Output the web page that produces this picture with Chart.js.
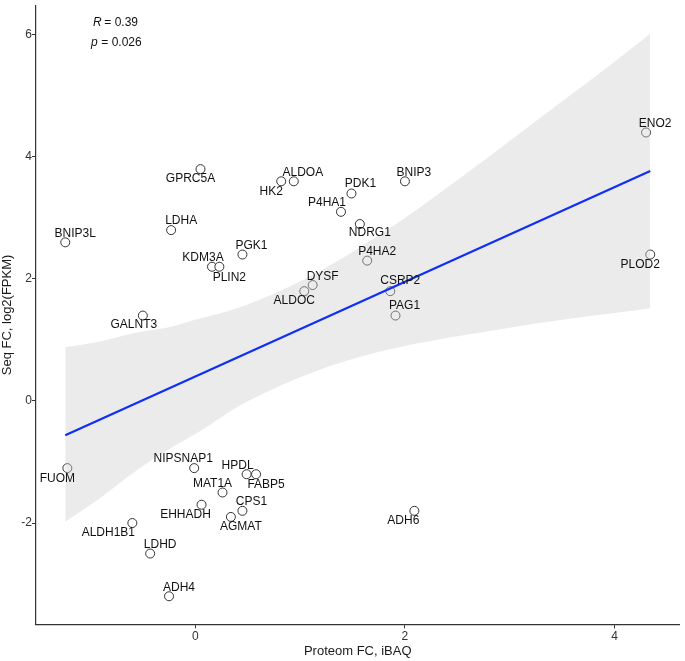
<!DOCTYPE html>
<html>
<head>
<meta charset="utf-8">
<script src="https://cdn.jsdelivr.net/npm/chart.js@4.4.1/dist/chart.umd.min.js"></script>
<style>
  body { margin: 0; background: #fff; }
  #wrap { width: 685px; height: 661px; }
</style>
</head>
<body>
<div id="wrap"><canvas id="scatter" width="685" height="661"></canvas></div>
<script>
// gene labels + values
const genes = ['GPRC5A', 'HK2', 'ALDOA', 'P4HA1', 'LDHA', 'BNIP3L', 'PGK1', 'KDM3A', 'PLIN2', 'DYSF',
  'ALDOC', 'GALNT3', 'ENO2', 'BNIP3', 'PDK1', 'NDRG1', 'P4HA2', 'CSRP2', 'PAG1', 'PLOD2',
  'FUOM', 'NIPSNAP1', 'HPDL', 'FABP5', 'MAT1A', 'EHHADH', 'CPS1', 'AGMAT', 'ALDH1B1', 'LDHD',
  'ADH4', 'ADH6']
const proteomFC = [0.05, 0.82, 0.94, 1.39, -0.23, -1.24, 0.45, 0.16, 0.23, 1.12,
  1.04, -0.50, 4.30, 2.00, 1.49, 1.57, 1.64, 1.86, 1.91, 4.34,
  -1.22, -0.01, 0.49, 0.58, 0.26, 0.06, 0.45, 0.34, -0.60, -0.43,
  -0.25, 2.09]
const seqFC = [3.8, 3.6, 3.6, 3.1, 2.8, 2.6, 2.4, 2.2, 2.2, 1.9,
  1.8, 1.4, 4.4, 3.6, 3.4, 2.9, 2.3, 1.8, 1.4, 2.4,
  -1.1, -1.1, -1.2, -1.2, -1.5, -1.7, -1.8, -1.9, -2.0, -2.5,
  -3.2, -1.8]

// regression line ends and confidence band edges
const fitX = [-1.24, 4.34]
const fitY = [-0.56, 3.77]
const bandX = [-1.24, -0.9, -0.57, -0.25, 0.06, 0.4, 0.8, 1.2, 1.61, 2.0, 2.5, 3.0, 3.5, 4.0, 4.34]
const bandHi = [0.88, 0.98, 1.12, 1.21, 1.36, 1.52, 1.80, 2.14, 2.56, 3.00, 3.62, 4.26, 4.91, 5.56, 6.02]
const bandLo = [-1.98, -1.58, -1.15, -0.79, -0.48, -0.10, 0.24, 0.52, 0.74, 0.90, 1.06, 1.20, 1.33, 1.44, 1.52]

const xTicks = [0, 2, 4]
const yTicks = [-2, 0, 2, 4, 6]

// label nudges in px (ggrepel placement)
const labelNudge = [[-10, 10], [-10, 10], [9, -9], [-14, -9], [10, -9], [10, -9], [9, -9], [-9, -9], [10, 11], [10, -8],
  [-10, 10], [-9, 9], [9, -9], [9, -9], [9, -10], [10, 9], [10, -9], [10, -10], [9, -10], [-10, 10],
  [-10, 11], [-11, -9], [-9, -9], [10, 10], [-10, -9], [-16, 10], [9, -9], [10, 10], [-24, 10], [10, -9],
  [10, -9], [-11, 10]]

Chart.defaults.font.family = '"Liberation Sans", Arial, sans-serif'
Chart.defaults.color = '#1a1a1a'

const toPts = (xs, ys) => xs.map((x, i) => ({ x: x, y: ys[i] }))

const geneLabels = {
  id: 'geneLabels',
  afterDatasetsDraw(chart) {
    const ctx = chart.ctx
    const meta = chart.getDatasetMeta(0)
    ctx.save()
    ctx.font = '12px "Liberation Sans", Arial, sans-serif'
    ctx.fillStyle = '#111'
    ctx.textAlign = 'center'
    ctx.textBaseline = 'middle'
    meta.data.forEach((pt, i) => {
      ctx.fillText(genes[i], pt.x + labelNudge[i][0], pt.y + labelNudge[i][1])
    })
    // stats annotation
    const area = chart.chartArea
    const cx = area.left + 79
    ctx.textAlign = 'left'
    ctx.font = 'italic 12px "Liberation Sans", Arial, sans-serif'
    ctx.fillText('R', cx - 22, 23)
    ctx.fillText('p', cx - 24, 43)
    ctx.font = '12px "Liberation Sans", Arial, sans-serif'
    ctx.fillText(' = 0.39', cx - 14, 23)
    ctx.fillText(' = 0.026', cx - 17, 43)
    ctx.restore()
  }
}

const scatterCtx = document.getElementById('scatter')
const scatter = new Chart(scatterCtx, {
  type: 'scatter',
  data: {
    datasets: [
      {
        data: toPts(proteomFC, seqFC),
        pointRadius: 4.5,
        pointBorderWidth: 1,
        borderColor: '#333',
        backgroundColor: '#fff',
        order: 3,
      },
      {
        data: toPts(bandX, bandLo),
        showLine: true,
        borderWidth: 0,
        pointRadius: 0,
        cubicInterpolationMode: 'monotone',
        order: 2,
      },
      {
        data: toPts(bandX, bandHi),
        showLine: true,
        borderWidth: 0,
        pointRadius: 0,
        cubicInterpolationMode: 'monotone',
        fill: { target: 1 },
        backgroundColor: 'rgba(205, 205, 205, 0.4)',
        order: 2,
      },
      {
        data: toPts(fitX, fitY),
        showLine: true,
        borderColor: '#0f2ff5',
        borderWidth: 2.2,
        pointRadius: 0,
        order: 1,
      },
    ],
  },
  options: {
    responsive: false,
    animation: false,
    layout: { padding: { top: 3.4, right: 1, left: 0, bottom: 0 } },
    plugins: {
      legend: { display: false },
      tooltip: { enabled: false },
    },
    scales: {
      x: {
        type: 'linear',
        min: -1.519,
        max: 4.619,
        afterBuildTicks: (s) => { s.ticks = xTicks.map((v) => ({ value: v })) },
        afterFit: (s) => { s.height = 36.6; s.paddingLeft = 0; s.paddingRight = 0 },
        grid: { drawOnChartArea: false, drawTicks: true, tickLength: 4, color: '#333' },
        border: { display: true, color: '#333', width: 1.2 },
        ticks: { font: { size: 12 }, color: '#333', padding: 1, maxRotation: 0 },
        title: { display: true, text: 'Proteom FC, iBAQ', font: { size: 13 }, color: '#1a1a1a', padding: { top: 0, bottom: 1.5 } },
      },
      y: {
        type: 'linear',
        min: -3.661,
        max: 6.481,
        afterBuildTicks: (s) => { s.ticks = yTicks.map((v) => ({ value: v })) },
        afterFit: (s) => { s.width = 36; s.paddingTop = 0; s.paddingBottom = 0 },
        grid: { drawOnChartArea: false, drawTicks: true, tickLength: 4, color: '#333' },
        border: { display: true, color: '#333', width: 1.2 },
        ticks: { font: { size: 12 }, color: '#333', padding: 0 },
        title: { display: true, text: 'Seq FC, log2(FPKM)', font: { size: 13 }, color: '#1a1a1a', padding: { top: 0, bottom: 0 } },
      },
    },
  },
  plugins: [geneLabels],
})
</script>
</body>
</html>
